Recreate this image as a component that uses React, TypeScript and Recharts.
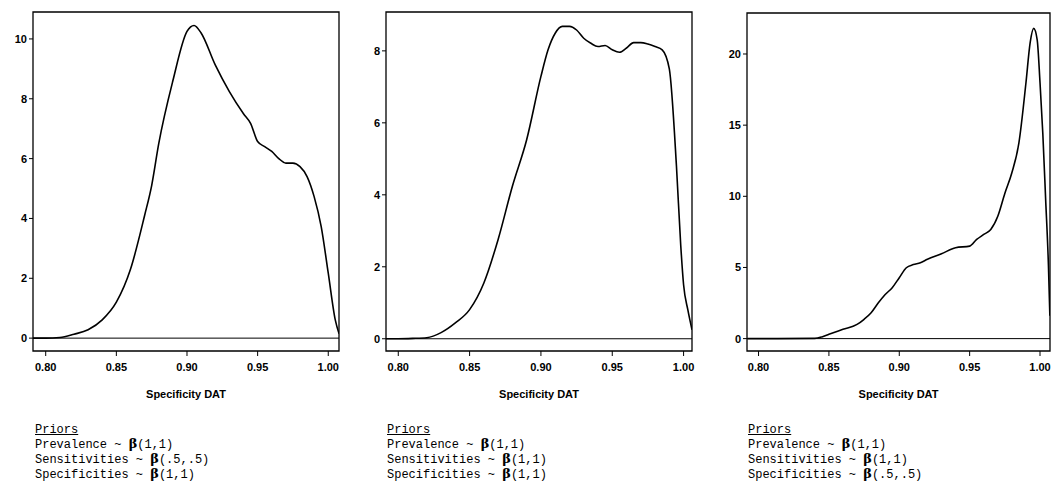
import React from 'react';
import {
  LineChart,
  Line,
  XAxis,
  YAxis,
  ReferenceLine,
  ReferenceArea,
  Label,
} from 'recharts';

// specificity grid + posterior density, one pair per panel
const xTicks = [0.8, 0.85, 0.9, 0.95, 1.0];

const flatX = [0.791, 0.8, 0.81, 0.82, 0.83, 0.84, 0.85, 0.86, 0.87, 0.875, 0.88, 0.89, 0.9, 0.905, 0.91, 0.92, 0.93, 0.94, 0.945, 0.95, 0.955, 0.96, 0.965, 0.97, 0.975, 0.98, 0.985, 0.99, 0.995, 1.0, 1.005, 1.0076];
const flatY = [0, 0, 0.02, 0.13, 0.28, 0.61, 1.2, 2.3, 4.1, 5.1, 6.5, 8.6, 10.25, 10.45, 10.2, 9.13, 8.24, 7.5, 7.18, 6.57, 6.4, 6.24, 6.0, 5.85, 5.85, 5.73, 5.4, 4.73, 3.73, 2.17, 0.6, 0.15];

const uniX = [0.791, 0.8, 0.81, 0.82, 0.83, 0.84, 0.85, 0.86, 0.87, 0.88, 0.89, 0.9, 0.905, 0.91, 0.915, 0.92, 0.925, 0.93, 0.935, 0.94, 0.945, 0.95, 0.955, 0.96, 0.965, 0.97, 0.975, 0.98, 0.985, 0.99, 0.995, 0.998, 1.0, 1.003, 1.0059];
const uniY = [0, 0, 0.01, 0.03, 0.17, 0.44, 0.81, 1.55, 2.76, 4.24, 5.53, 7.29, 8.03, 8.49, 8.68, 8.68, 8.58, 8.35, 8.21, 8.12, 8.15, 8.03, 7.96, 8.08, 8.23, 8.23, 8.19, 8.12, 8.03, 7.5, 4.8, 2.6, 1.5, 0.8, 0.25];

const jeffX = [0.792, 0.8, 0.84, 0.845, 0.85, 0.86, 0.87, 0.875, 0.88, 0.885, 0.89, 0.895, 0.9, 0.905, 0.91, 0.915, 0.92, 0.93, 0.94, 0.95, 0.955, 0.96, 0.965, 0.97, 0.975, 0.98, 0.985, 0.99, 0.993, 0.9955, 0.998, 1.0, 1.002, 1.004, 1.006, 1.007];
const jeffY = [0, 0, 0.02, 0.12, 0.3, 0.65, 1.0, 1.36, 1.82, 2.5, 3.1, 3.58, 4.28, 4.98, 5.2, 5.33, 5.57, 5.96, 6.39, 6.5, 6.97, 7.32, 7.67, 8.6, 10.2, 11.65, 13.75, 17.96, 20.8, 21.8, 21.0, 18.0, 14.4, 9.8, 5.1, 1.6];

const priorLines = [
  ['(1,1)', '(.5,.5)', '(1,1)'],
  ['(1,1)', '(1,1)', '(1,1)'],
  ['(1,1)', '(1,1)', '(.5,.5)'],
];
const priorNames = ['Prevalence', 'Sensitivities', 'Specificities'];

const axisFont = "'Liberation Sans Narrow', 'Liberation Sans', Arial, sans-serif";
const tickStyle = { fill: '#000', fontSize: 11, fontWeight: 700, fontFamily: axisFont };

interface PanelProps {
  xs: number[];
  ys: number[];
  left: number;
  width: number;
  yWidth: number;
  top: number;
  right: number;
  xDomain: [number, number];
  yDomain: [number, number];
  yTicks: number[];
}

function Panel({ xs, ys, left, width, yWidth, top, right, xDomain, yDomain, yTicks }: PanelProps) {
  const data = xs.map((x, i) => ({ x, y: ys[i] }));
  return (
    <div style={{ position: 'absolute', left, top: 0 }}>
      <LineChart width={width} height={405} data={data} margin={{ top, right, left: 0, bottom: 0 }}>
        <XAxis
          dataKey="x"
          type="number"
          domain={xDomain}
          ticks={xTicks}
          allowDataOverflow
          tickFormatter={(v: number) => v.toFixed(2)}
          tick={tickStyle}
          tickSize={5}
          tickMargin={7}
          axisLine={false}
          tickLine={{ stroke: '#000' }}
          height={54}
        >
          <Label
            value="Specificity DAT"
            position="insideBottom"
            offset={7}
            style={{ fill: '#000', fontSize: 11, fontWeight: 700, fontFamily: axisFont }}
          />
        </XAxis>
        <YAxis
          type="number"
          domain={yDomain}
          ticks={yTicks}
          allowDataOverflow
          tick={tickStyle}
          tickSize={4}
          tickMargin={2}
          axisLine={false}
          tickLine={{ stroke: '#000' }}
          width={yWidth}
        />
        <ReferenceArea
          x1={xDomain[0]}
          x2={xDomain[1]}
          y1={yDomain[0]}
          y2={yDomain[1]}
          fill="none"
          stroke="#000"
          strokeWidth={1.3}
          ifOverflow="visible"
        />
        <ReferenceLine y={0} stroke="#000" strokeWidth={1} />
        <Line
          type="monotone"
          dataKey="y"
          stroke="#000"
          strokeWidth={1.6}
          dot={false}
          isAnimationActive={false}
        />
      </LineChart>
    </div>
  );
}

function Priors({ left, betas }: { left: number; betas: string[] }) {
  return (
    <div
      style={{
        position: 'absolute',
        left,
        top: 423,
        fontFamily: "'Liberation Mono', 'DejaVu Sans Mono', monospace",
        fontSize: 12,
        lineHeight: '15px',
        color: '#000',
        whiteSpace: 'pre',
      }}
    >
      <div style={{ textDecoration: 'underline' }}>Priors</div>
      {priorNames.map((name, i) => (
        <div key={name} style={{ height: 15 }}>
          {name} ~ <span style={{ fontFamily: "'DejaVu Serif', serif", fontSize: 13, fontWeight: 700, lineHeight: '10px' }}>β</span>
          {betas[i]}
        </div>
      ))}
    </div>
  );
}

export default function App() {
  return (
    <div style={{ position: 'absolute', left: 0, top: 0, width: 1055, height: 498, background: '#fff', overflow: 'hidden' }}>
      <Panel xs={flatX} ys={flatY} left={0} width={345} yWidth={33} top={12} right={6}
        xDomain={[0.791, 1.0076]} yDomain={[-0.43, 10.9]} yTicks={[0, 2, 4, 6, 8, 10]} />
      <Panel xs={uniX} ys={uniY} left={353} width={345} yWidth={33} top={12} right={6}
        xDomain={[0.7914, 1.0059]} yDomain={[-0.34, 9.08]} yTicks={[0, 2, 4, 6, 8]} />
      <Panel xs={jeffX} ys={jeffY} left={712} width={343} yWidth={35} top={13} right={5}
        xDomain={[0.7918, 1.0071]} yDomain={[-0.87, 22.88]} yTicks={[0, 5, 10, 15, 20]} />
      <Priors left={35} betas={priorLines[0]} />
      <Priors left={387} betas={priorLines[1]} />
      <Priors left={748} betas={priorLines[2]} />
    </div>
  );
}
